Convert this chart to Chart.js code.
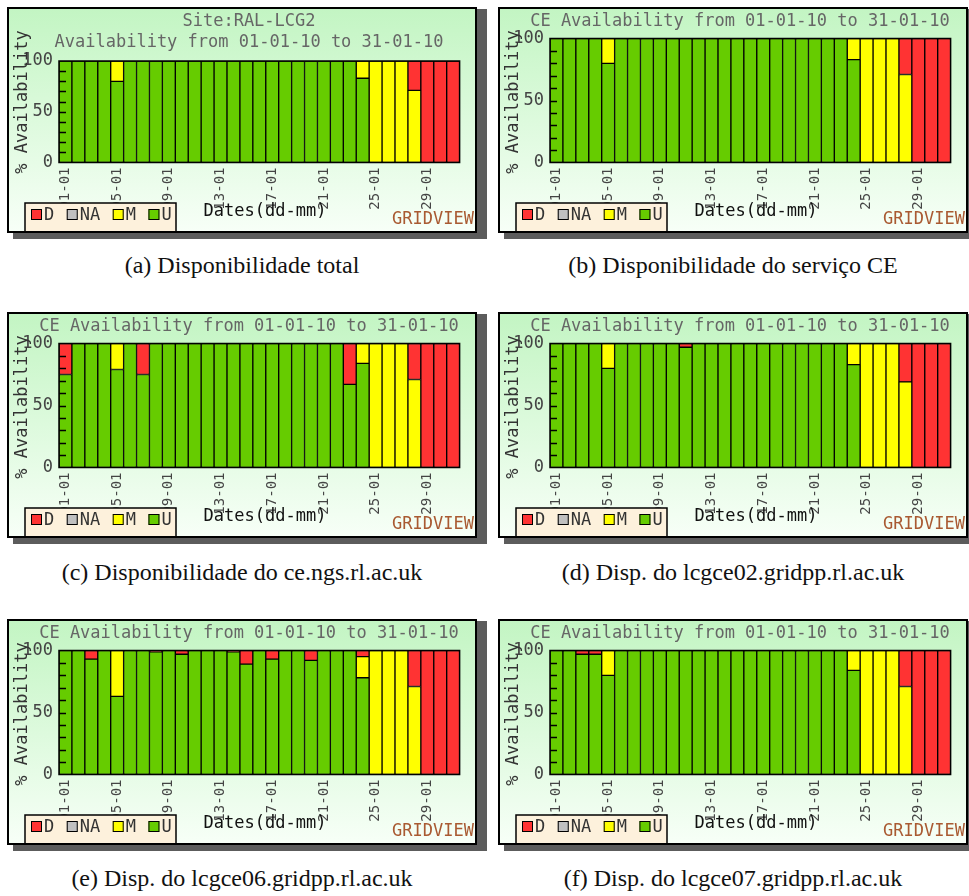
<!DOCTYPE html>
<html>
<head>
<meta charset="utf-8">
<script src="https://cdn.jsdelivr.net/npm/chart.js@4.4.1/dist/chart.umd.min.js"></script>
<style>
  html, body { margin: 0; padding: 0; background: #fff; }
  body { position: relative; width: 969px; height: 896px; overflow: hidden; }
  .panel {
    position: absolute; width: 470px; height: 226px; box-sizing: border-box;
    border: 2px solid #000;
    background: linear-gradient(#c3f5c3, #f7fff7);
    box-shadow: 8px 4px 0 2px #5c5c5c;
  }
  .panel canvas { display: block; }
  .caption {
    position: absolute; width: 470px; text-align: center;
    font-family: "Liberation Serif", serif; font-size: 24px; line-height: 28px; color: #111;
  }
</style>
</head>
<body>
<div class="panel" style="left:7px;top:7px"><canvas id="cA" width="466" height="222"></canvas></div>
<div class="panel" style="left:498px;top:7px"><canvas id="cB" width="466" height="222"></canvas></div>
<div class="panel" style="left:7px;top:312px"><canvas id="cC" width="466" height="222"></canvas></div>
<div class="panel" style="left:498px;top:312px"><canvas id="cD" width="466" height="222"></canvas></div>
<div class="panel" style="left:7px;top:619px"><canvas id="cE" width="466" height="222"></canvas></div>
<div class="panel" style="left:498px;top:619px"><canvas id="cF" width="466" height="222"></canvas></div>

<div class="caption" style="left:7px;top:251px">(a) Disponibilidade total</div>
<div class="caption" style="left:498px;top:251px">(b) Disponibilidade do serviço CE</div>
<div class="caption" style="left:7px;top:558px">(c) Disponibilidade do ce.ngs.rl.ac.uk</div>
<div class="caption" style="left:498px;top:558px">(d) Disp. do lcgce02.gridpp.rl.ac.uk</div>
<div class="caption" style="left:7px;top:864px">(e) Disp. do lcgce06.gridpp.rl.ac.uk</div>
<div class="caption" style="left:498px;top:864px">(f) Disp. do lcgce07.gridpp.rl.ac.uk</div>

<script>
// Days of January 2010 (dd-mm)
const DAYS = [
  '01-01','02-01','03-01','04-01','05-01','06-01','07-01','08-01','09-01','10-01',
  '11-01','12-01','13-01','14-01','15-01','16-01','17-01','18-01','19-01','20-01',
  '21-01','22-01','23-01','24-01','25-01','26-01','27-01','28-01','29-01','30-01',
  '31-01'
];
const Y_TICKS = [0, 50, 100];
const Y_MINOR = [10, 20, 30, 40, 50, 60, 70, 80, 90];

// Daily share (%) per status: U = up, M = maintenance, NA = not available, D = down
const NONE = [0,0,0,0,0,0,0,0,0,0, 0,0,0,0,0,0,0,0,0,0, 0,0,0,0,0,0,0,0,0,0, 0];

// (a) site RAL-LCG2
const A_U = [100,100,100,100,80,100,100,100,100,100, 100,100,100,100,100,100,100,100,100,100, 100,100,100,83,0,0,0,0,0,0, 0];
const A_M = [0,0,0,0,20,0,0,0,0,0, 0,0,0,0,0,0,0,0,0,0, 0,0,0,17,100,100,100,71,0,0, 0];
const A_D = [0,0,0,0,0,0,0,0,0,0, 0,0,0,0,0,0,0,0,0,0, 0,0,0,0,0,0,0,29,100,100, 100];

// (b) CE service
const B_U = [100,100,100,100,80,100,100,100,100,100, 100,100,100,100,100,100,100,100,100,100, 100,100,100,83,0,0,0,0,0,0, 0];
const B_M = [0,0,0,0,20,0,0,0,0,0, 0,0,0,0,0,0,0,0,0,0, 0,0,0,17,100,100,100,71,0,0, 0];
const B_D = [0,0,0,0,0,0,0,0,0,0, 0,0,0,0,0,0,0,0,0,0, 0,0,0,0,0,0,0,29,100,100, 100];

// (c) ce.ngs.rl.ac.uk
const C_U = [75,100,100,100,79,100,75,100,100,100, 100,100,100,100,100,100,100,100,100,100, 100,100,67,84,0,0,0,0,0,0, 0];
const C_M = [0,0,0,0,21,0,0,0,0,0, 0,0,0,0,0,0,0,0,0,0, 0,0,0,16,100,100,100,71,0,0, 0];
const C_D = [25,0,0,0,0,0,25,0,0,0, 0,0,0,0,0,0,0,0,0,0, 0,0,33,0,0,0,0,29,100,100, 100];

// (d) lcgce02.gridpp.rl.ac.uk
const D_U = [100,100,100,100,80,100,100,100,100,100, 97,100,100,100,100,100,100,100,100,100, 100,100,100,83,0,0,0,0,0,0, 0];
const D_M = [0,0,0,0,20,0,0,0,0,0, 0,0,0,0,0,0,0,0,0,0, 0,0,0,17,100,100,100,69,0,0, 0];
const D_D = [0,0,0,0,0,0,0,0,0,0, 3,0,0,0,0,0,0,0,0,0, 0,0,0,0,0,0,0,31,100,100, 100];

// (e) lcgce06.gridpp.rl.ac.uk
const E_U = [100,100,93,100,63,100,100,99,100,97, 100,100,100,99,89,100,93,100,100,92, 100,100,100,78,0,0,0,0,0,0, 0];
const E_M = [0,0,0,0,37,0,0,0,0,0, 0,0,0,0,0,0,0,0,0,0, 0,0,0,17,100,100,100,71,0,0, 0];
const E_D = [0,0,7,0,0,0,0,1,0,3, 0,0,0,1,11,0,7,0,0,8, 0,0,0,5,0,0,0,29,100,100, 100];

// (f) lcgce07.gridpp.rl.ac.uk
const F_U = [100,100,97,97,80,100,100,100,100,100, 100,100,100,100,100,100,100,100,100,100, 100,100,100,84,0,0,0,0,0,0, 0];
const F_M = [0,0,0,0,20,0,0,0,0,0, 0,0,0,0,0,0,0,0,0,0, 0,0,0,16,100,100,100,71,0,0, 0];
const F_D = [0,0,3,3,0,0,0,0,0,0, 0,0,0,0,0,0,0,0,0,0, 0,0,0,0,0,0,0,29,100,100, 100];

const TITLE_SITE = ['Site:RAL-LCG2', 'Availability from 01-01-10 to 31-01-10'];
const TITLE_CE = ['CE Availability from 01-01-10 to 31-01-10'];

const COLORS = { D: '#ff3333', NA: '#c0c0c0', M: '#ffff00', U: '#66cc00' };
const MONO = '"DejaVu Sans Mono", "Liberation Mono", monospace';

// empty segments are skipped so they leave no outline
const nz = arr => arr.map(v => (v === 0 ? null : v));

// Frame, inner ticks, titles, axis captions and the status key of each GridView panel
const gridviewDecor = {
  id: 'gridviewDecor',
  afterDraw(chart, args, opts) {
    const ctx = chart.ctx;
    const a = chart.chartArea;
    const ys = chart.scales.y;
    ctx.save();

    // short inner ticks every 10 %
    ctx.strokeStyle = '#000';
    ctx.lineWidth = 1.5;
    Y_MINOR.forEach(v => {
      const py = Math.round(ys.getPixelForValue(v)) + 0.5;
      ctx.beginPath();
      ctx.moveTo(a.left, py);
      ctx.lineTo(a.left + 7, py);
      ctx.stroke();
    });
    // plot frame
    ctx.strokeRect(a.left, a.top, a.right - a.left, a.bottom - a.top);

    // title
    ctx.font = '17px ' + MONO;
    ctx.fillStyle = '#666';
    ctx.textAlign = 'center';
    ctx.textBaseline = 'middle';
    opts.title.forEach((t, i) => ctx.fillText(t, opts.titleX, opts.titleY + i * 21));

    // y axis caption
    ctx.save();
    ctx.translate(14, 93);
    ctx.rotate(-Math.PI / 2);
    ctx.fillStyle = '#333';
    ctx.fillText('% Availability', 0, 0);
    ctx.restore();

    // x axis caption
    ctx.fillStyle = '#111';
    ctx.fillText('Dates(dd-mm)', 256, 203);

    // status key
    const items = chart.data.datasets.slice().reverse();
    const bx = 16, by = 194, bw = 151, bh = 32;
    ctx.fillStyle = '#fdf1dc';
    ctx.fillRect(bx, by, bw, bh);
    ctx.strokeStyle = '#000';
    ctx.lineWidth = 1.5;
    ctx.strokeRect(bx, by, bw, bh);
    ctx.textAlign = 'left';
    let x = 22;
    items.forEach(ds => {
      ctx.fillStyle = ds.backgroundColor;
      ctx.fillRect(x, 200, 11, 11);
      ctx.lineWidth = 1;
      ctx.strokeRect(x + 0.5, 200.5, 10, 10);
      ctx.fillStyle = '#333';
      ctx.fillText(ds.label, x + 13, 206.5);
      x += 13 + ctx.measureText(ds.label).width + 12.5;
    });

    // brand mark
    ctx.textAlign = 'center';
    ctx.fillStyle = '#a95a32';
    ctx.fillText('GRIDVIEW', 424, 211);

    ctx.restore();
  }
};

function gridviewChart(id, u, m, na, d, title) {
  const twoLines = title.length === 2;
  return new Chart(document.getElementById(id), {
    type: 'bar',
    data: {
      labels: DAYS,
      datasets: [
        { label: 'U', data: nz(u), backgroundColor: COLORS.U },
        { label: 'M', data: nz(m), backgroundColor: COLORS.M },
        { label: 'NA', data: nz(na), backgroundColor: COLORS.NA },
        { label: 'D', data: nz(d), backgroundColor: COLORS.D }
      ]
    },
    options: {
      responsive: false,
      animation: false,
      devicePixelRatio: 1,
      layout: { padding: { left: 0, right: 3, top: twoLines ? 52 : 29.5, bottom: 0 } },
      datasets: {
        bar: {
          barPercentage: 1, categoryPercentage: 1,
          borderColor: '#000', borderWidth: 1, borderSkipped: false
        }
      },
      scales: {
        x: {
          stacked: true,
          grid: { display: false, drawTicks: false },
          border: { display: false },
          ticks: {
            autoSkip: false, minRotation: 90, maxRotation: 90, padding: 5,
            color: '#444', font: { family: MONO, size: 14 },
            callback: (v, i) => (i % 4 === 0 ? DAYS[i] : '')
          },
          afterFit: s => { s.height = 68.5; }
        },
        y: {
          stacked: true, min: 0, max: 100,
          grid: { display: false, drawTicks: false },
          border: { display: false },
          afterBuildTicks: s => { s.ticks = Y_TICKS.map(v => ({ value: v })); },
          ticks: { padding: 6, color: '#444', font: { family: MONO, size: 17 } },
          afterFit: s => { s.width = 50; }
        }
      },
      plugins: {
        legend: { display: false },
        tooltip: { enabled: false },
        title: { display: false },
        gridviewDecor: { title: title, titleX: 240, titleY: twoLines ? 13 : 12.7 }
      }
    },
    plugins: [gridviewDecor]
  });
}

gridviewChart('cA', A_U, A_M, NONE, A_D, TITLE_SITE);
gridviewChart('cB', B_U, B_M, NONE, B_D, TITLE_CE);
gridviewChart('cC', C_U, C_M, NONE, C_D, TITLE_CE);
gridviewChart('cD', D_U, D_M, NONE, D_D, TITLE_CE);
gridviewChart('cE', E_U, E_M, NONE, E_D, TITLE_CE);
gridviewChart('cF', F_U, F_M, NONE, F_D, TITLE_CE);
</script>
</body>
</html>
